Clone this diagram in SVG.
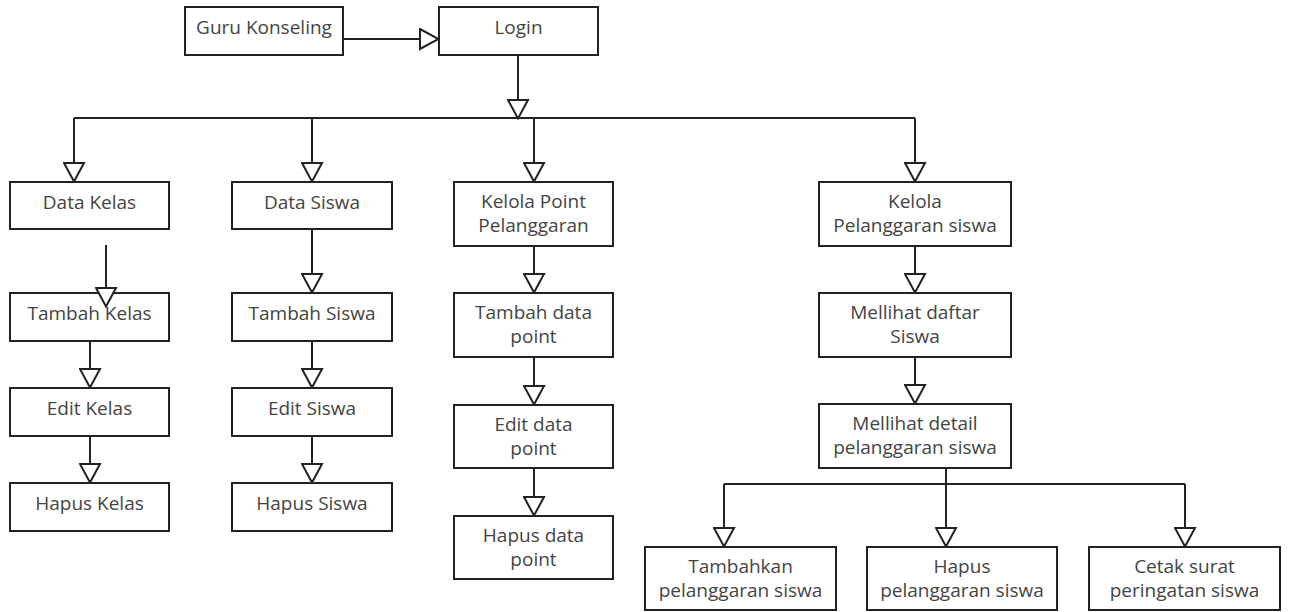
<svg xmlns="http://www.w3.org/2000/svg" width="1289" height="612" viewBox="0 0 1289 612">
<style>
.box{fill:#fff;stroke:#222;stroke-width:2}
.t{font-family:"Open Sans","Liberation Sans",sans-serif;font-size:19px;fill:#444;text-anchor:middle}
.c{fill:none;stroke:#222;stroke-width:2}
.a{marker-end:url(#tri)}
</style>
<defs>
<marker id="tri" viewBox="0 0 21 23" refX="20" refY="11.5" markerWidth="21" markerHeight="23" markerUnits="userSpaceOnUse" orient="auto">
<path d="M1,1.5 L19.5,11.5 L1,21.5 Z" fill="#fff" stroke="#222" stroke-width="2" stroke-linejoin="miter"/>
</marker>
</defs>
<rect width="1289" height="612" fill="#fff"/>
<g id="guru"><rect class="box" x="185" y="7" width="158" height="48"/><text class="t" x="264" y="34">Guru Konseling</text></g>
<g id="login"><rect class="box" x="439" y="7" width="159" height="48"/><text class="t" x="518.5" y="34">Login</text></g>
<g id="data-kelas"><rect class="box" x="10" y="182" width="159" height="47"/><text class="t" x="89.5" y="209">Data Kelas</text></g>
<g id="tambah-kelas"><rect class="box" x="10" y="293" width="159" height="48"/><text class="t" x="89.5" y="320">Tambah Kelas</text></g>
<g id="edit-kelas"><rect class="box" x="10" y="388" width="159" height="48"/><text class="t" x="89.5" y="415">Edit Kelas</text></g>
<g id="hapus-kelas"><rect class="box" x="10" y="483" width="159" height="48"/><text class="t" x="89.5" y="510">Hapus Kelas</text></g>
<g id="data-siswa"><rect class="box" x="232" y="182" width="160" height="47"/><text class="t" x="312" y="209">Data Siswa</text></g>
<g id="tambah-siswa"><rect class="box" x="232" y="293" width="160" height="48"/><text class="t" x="312" y="320">Tambah Siswa</text></g>
<g id="edit-siswa"><rect class="box" x="232" y="388" width="160" height="48"/><text class="t" x="312" y="415">Edit Siswa</text></g>
<g id="hapus-siswa"><rect class="box" x="232" y="483" width="160" height="48"/><text class="t" x="312" y="510">Hapus Siswa</text></g>
<g id="kelola-point"><rect class="box" x="454" y="182" width="159" height="64"/><text class="t" x="533.5" y="208">Kelola Point</text><text class="t" x="533.5" y="232">Pelanggaran</text></g>
<g id="tambah-point"><rect class="box" x="454" y="293" width="159" height="64"/><text class="t" x="533.5" y="319">Tambah data</text><text class="t" x="533.5" y="343">point</text></g>
<g id="edit-point"><rect class="box" x="454" y="405" width="159" height="63"/><text class="t" x="533.5" y="431">Edit data</text><text class="t" x="533.5" y="455">point</text></g>
<g id="hapus-point"><rect class="box" x="454" y="516" width="159" height="63"/><text class="t" x="533.5" y="542">Hapus data</text><text class="t" x="533.5" y="566">point</text></g>
<g id="kelola-pelanggaran"><rect class="box" x="819" y="182" width="192" height="64"/><text class="t" x="915" y="208">Kelola</text><text class="t" x="915" y="232">Pelanggaran siswa</text></g>
<g id="daftar-siswa"><rect class="box" x="819" y="293" width="192" height="64"/><text class="t" x="915" y="319">Mellihat daftar</text><text class="t" x="915" y="343">Siswa</text></g>
<g id="detail-pelanggaran"><rect class="box" x="819" y="404" width="192" height="64"/><text class="t" x="915" y="430">Mellihat detail</text><text class="t" x="915" y="454">pelanggaran siswa</text></g>
<g id="tambahkan-pelanggaran"><rect class="box" x="645" y="547" width="191" height="63"/><text class="t" x="740.5" y="573">Tambahkan</text><text class="t" x="740.5" y="597">pelanggaran siswa</text></g>
<g id="hapus-pelanggaran"><rect class="box" x="867" y="547" width="190" height="63"/><text class="t" x="962" y="573">Hapus</text><text class="t" x="962" y="597">pelanggaran siswa</text></g>
<g id="cetak-surat"><rect class="box" x="1089" y="547" width="191" height="63"/><text class="t" x="1184.5" y="573">Cetak surat</text><text class="t" x="1184.5" y="597">peringatan siswa</text></g>
<g id="connectors">
<path class="c a" d="M343,39 H439"/>
<path class="c a" d="M518,55 V119"/>
<path class="c" d="M74,118 H915"/>
<path class="c a" d="M74,118 V182"/>
<path class="c a" d="M312,118 V182"/>
<path class="c a" d="M534,118 V182"/>
<path class="c a" d="M915,118 V182"/>
<path class="c a" d="M106,245 V307"/>
<path class="c a" d="M90,341 V388"/>
<path class="c a" d="M90,436 V483"/>
<path class="c a" d="M312,229 V293"/>
<path class="c a" d="M312,341 V388"/>
<path class="c a" d="M312,436 V483"/>
<path class="c a" d="M534,246 V293"/>
<path class="c a" d="M534,357 V405"/>
<path class="c a" d="M534,468 V516"/>
<path class="c a" d="M915,246 V293"/>
<path class="c a" d="M915,357 V404"/>
<path class="c a" d="M946,468 V547"/>
<path class="c" d="M724,484 H1185"/>
<path class="c a" d="M724,484 V547"/>
<path class="c a" d="M1185,484 V547"/>
</g>
</svg>
